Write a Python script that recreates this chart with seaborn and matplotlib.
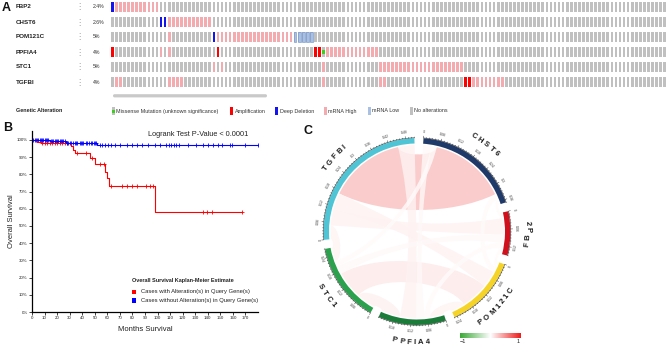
import numpy as np
import matplotlib
matplotlib.use("Agg")
import matplotlib.pyplot as plt
import seaborn as sns
from matplotlib.patches import Wedge, PathPatch, Rectangle, FancyBboxPatch
from matplotlib.path import Path
from matplotlib.colors import LinearSegmentedColormap, Normalize
from matplotlib.textpath import TextToPath
from matplotlib.font_manager import FontProperties

# ---------------- Panel A data (oncoprint) ----------------
genes = ["FBP2", "CHST6", "POM121C", "PPFIA4", "STC1", "TGFBI"]
gene_pct = ["2.4%", "2.6%", "5%", "4%", "5%", "4%"]
n_cases = 137
deep_deletion = [("FBP2", 0), ("CHST6", 12), ("CHST6", 13), ("POM121C", 25)]
amplification = [("PPFIA4", 0), ("PPFIA4", 26), ("PPFIA4", 50), ("PPFIA4", 51),
                 ("TGFBI", 87), ("TGFBI", 88)]
missense = [("PPFIA4", 52)]
mrna_low = [("POM121C", 45, 49)]
mrna_high = [("FBP2", 1, 11), ("CHST6", 14, 24), ("POM121C", 14, 14), ("POM121C", 26, 44),
             ("PPFIA4", 12, 12), ("PPFIA4", 14, 14), ("PPFIA4", 53, 65),
             ("STC1", 25, 25), ("STC1", 27, 27), ("STC1", 52, 52), ("STC1", 66, 86),
             ("TGFBI", 1, 2), ("TGFBI", 14, 17), ("TGFBI", 52, 52), ("TGFBI", 66, 67),
             ("TGFBI", 89, 96)]
legend_labels = ["Missense Mutation (unknown significance)", "Amplification", "Deep Deletion",
                 "mRNA High", "mRNA Low", "No alterations"]

# ---------------- Panel B data (Kaplan-Meier) ----------------
red_time = [0, 4, 7, 31, 32.5, 34, 46, 50, 58, 59.5, 61.5, 98, 167.5]
red_surv = [1.0, 0.99, 0.98, 0.963, 0.94, 0.922, 0.893, 0.86, 0.816, 0.777, 0.732, 0.583, 0.583]
red_censor = [8, 10, 12, 14, 16, 18, 20, 22, 24, 26, 28, 36, 43, 47.5, 54, 57,
              63, 72, 76, 80, 84, 91, 94, 96, 136, 139, 143, 167.5]
blue_time = [0, 14, 27, 52, 180]
blue_surv = [1.0, 0.993, 0.985, 0.968, 0.968]
blue_censor = [1, 2, 3, 4, 5, 6, 7, 8, 9, 10, 11, 12, 13, 15, 16, 17, 18, 19, 20, 21, 22,
               23, 24, 25, 26, 28, 29, 30, 31, 33, 34, 35, 36, 38, 39, 40, 41, 43, 44, 45,
               47, 48, 49, 50, 51, 54, 56, 58, 60.5, 63, 66, 70, 76, 79.5, 83.5, 88, 92,
               98, 102, 107, 109, 111, 113, 115, 117, 124, 131, 136, 140, 144, 148, 151,
               157.5, 159, 169.5, 180]
km_title = "Logrank Test P-Value < 0.0001"
km_legend = ["Cases with Alteration(s) in Query Gene(s)",
             "Cases without Alteration(s) in Query Gene(s)"]

# ---------------- Panel C data (chord diagram) ----------------
chord_genes = ["CHST6", "FBP2", "POM121C", "PPFIA4", "STC1", "TGFBI"]
chord_colors = ["#1f3a68", "#d0101c", "#f6d327", "#1b7c3a", "#2ba14d", "#4fc4d4"]
link_a = ["TGFBI", "TGFBI", "TGFBI", "TGFBI", "TGFBI", "CHST6", "CHST6", "CHST6", "CHST6",
          "FBP2", "FBP2", "FBP2", "POM121C", "POM121C", "PPFIA4"]
link_b = ["CHST6", "FBP2", "STC1", "POM121C", "PPFIA4", "FBP2", "POM121C", "PPFIA4", "STC1",
          "POM121C", "PPFIA4", "STC1", "PPFIA4", "STC1", "STC1"]
link_r = [0.28, 0.06, 0.05, 0.06, 0.06, 0.02, 0.02, 0.03, 0.02,
          0.02, 0.02, 0.03, 0.05, 0.10, 0.07]
sector_order = {
    "CHST6": ["PPFIA4", "STC1", "TGFBI", "POM121C", "FBP2"],
    "FBP2": ["CHST6", "TGFBI", "STC1", "PPFIA4", "POM121C"],
    "POM121C": ["FBP2", "CHST6", "TGFBI", "STC1", "PPFIA4"],
    "PPFIA4": ["POM121C", "FBP2", "CHST6", "TGFBI", "STC1"],
    "STC1": ["PPFIA4", "POM121C", "FBP2", "CHST6", "TGFBI"],
    "TGFBI": ["STC1", "FBP2", "POM121C", "CHST6", "PPFIA4"],
}

# ---------------- figure ----------------
sns.set_theme(style="white")
plt.rcParams['font.family'] = ['Liberation Sans', 'DejaVu Sans']
W, H = 669, 346
fig = plt.figure(figsize=(W / 100, H / 100), dpi=100)


def rect(x0, y0, x1, y1):
    return [x0 / W, 1 - y1 / H, (x1 - x0) / W, (y1 - y0) / H]


GRAY = "#c0c0c0"
PINK = "#f3abb0"
RED = "#ff0000"
BLUE = "#1414f0"
LBLUE = "#a9c0e2"
GREEN = "#3ccf1e"

# ---------- Panel A ----------
axA = fig.add_axes(rect(110.3, -0.5, 666.7, 89.5))
axA.set_xlim(-0.5, n_cases - 0.5)
axA.set_ylim(len(genes) - 0.5, -0.5)
axA.axis('off')
bw, bh = 0.67, 0.667
row = {g: i for i, g in enumerate(genes)}
cols = np.arange(n_cases)
for g in genes:
    axA.bar(cols, bh, bottom=row[g] - bh / 2, width=bw, color=GRAY, linewidth=0)
for g, c0, c1 in mrna_high:
    xs = np.arange(c0, c1 + 1)
    axA.bar(xs, bh, bottom=row[g] - bh / 2, width=bw, color=PINK, linewidth=0)
for g, c0, c1 in mrna_low:
    xs = np.arange(c0, c1 + 1)
    axA.bar(xs, bh, bottom=row[g] - bh / 2, width=bw, color=LBLUE,
            edgecolor="#6f8fc8", linewidth=0.4)
for g, c in amplification:
    axA.bar([c], bh, bottom=row[g] - bh / 2, width=bw, color=RED, linewidth=0)
for g, c in deep_deletion:
    axA.bar([c], bh, bottom=row[g] - bh / 2, width=bw, color=BLUE, linewidth=0)
for g, c in missense:
    axA.bar([c], 0.3, bottom=row[g] - 0.15, width=bw, color=GREEN, linewidth=0)

# ---------- Panel B ----------
axB = fig.add_axes(rect(32, 131, 258, 312))


def step_at(times, surv, t):
    idx = np.searchsorted(np.asarray(times), np.asarray(t), side='right') - 1
    return np.asarray(surv)[idx]


sns.lineplot(x=red_time, y=red_surv, drawstyle='steps-post', color=RED, lw=0.8,
             estimator=None, sort=False, ax=axB)
sns.lineplot(x=blue_time, y=blue_surv, drawstyle='steps-post', color="#0000ff", lw=0.8,
             estimator=None, sort=False, ax=axB)
sns.scatterplot(x=red_censor, y=step_at(red_time, red_surv, red_censor), marker='+',
                color=RED, s=7, linewidth=0.6, ax=axB)
sns.scatterplot(x=blue_censor, y=step_at(blue_time, blue_surv, blue_censor), marker='+',
                color="#0000ff", s=7, linewidth=0.6, ax=axB)
axB.set_xlim(0, 180)
axB.set_ylim(0, 1.052)
axB.set_xticks(np.arange(0, 171, 10))
axB.set_yticks(np.arange(0, 1.01, 0.1))
axB.set_yticklabels([f"{int(round(v * 100))}%" for v in np.arange(0, 1.01, 0.1)])
axB.tick_params(axis='both', labelsize=3.2, length=2, width=0.6, pad=1, colors="#222222",
                left=True, bottom=True)
for s in ["top", "right"]:
    axB.spines[s].set_visible(False)
for s in ["left", "bottom"]:
    axB.spines[s].set_color("black")
    axB.spines[s].set_linewidth(0.9)
axB.set_xlabel("Months Survival", fontsize=5.5, labelpad=4, color="#222222")
axB.set_ylabel("Overall Survival", fontsize=5.5, color="#222222")
axB.yaxis.set_label_coords(-0.075, 0.5)

# ---------- Panel C ----------
cx, cy = 417, 231.5
axC = fig.add_axes(rect(cx - 130, cy - 130, cx + 130, cy + 130))
axC.set_xlim(-130, 130)
axC.set_ylim(-130, 130)
axC.set_aspect('equal')
axC.axis('off')

cmap = LinearSegmentedColormap.from_list("gwr", ["#3aa935", "#ffffff", "#ee1c1c"])
norm = Normalize(-1, 1)

totals = {g: 0.0 for g in chord_genes}
for a, b, r in zip(link_a, link_b, link_r):
    totals[a] += abs(r)
    totals[b] += abs(r)
gap = 5.6
start_angle = 86.0
dpu = (360 - gap * len(chord_genes)) / sum(totals.values())
R_OUT, RING, R_LINK = 93.5, 5.5, 86.5

sector_span = {}
cur = start_angle
for g in chord_genes:
    sector_span[g] = (cur, cur - totals[g] * dpu)
    cur = cur - totals[g] * dpu - gap

linkval = {}
for a, b, r in zip(link_a, link_b, link_r):
    linkval[(a, b)] = r
    linkval[(b, a)] = r
pos = {}
for g in chord_genes:
    a = sector_span[g][0]
    for p in sector_order[g]:
        w = abs(linkval[(g, p)]) * dpu
        pos[(g, p)] = (a, a - w)
        a -= w


def arc_pts(a_from, a_to, r, n=40):
    t = np.radians(np.linspace(a_from, a_to, n))
    return np.c_[r * np.cos(t), r * np.sin(t)]


def ctrl_factor(t1, t2):
    d = abs((t1 - t2 + 180) % 360 - 180)
    return 1 - 0.8 * d / 180


order = np.argsort([-abs(v) for v in link_r])
for k in order:
    a, b, r = link_a[k], link_b[k], link_r[k]
    ah, al = pos[(a, b)]
    bh_, bl = pos[(b, a)]
    A = arc_pts(ah, al, R_LINK)
    B = arc_pts(bh_, bl, R_LINK)
    k1 = ctrl_factor(al, bh_)
    k2 = ctrl_factor(bl, ah)
    verts = (list(A) + [A[-1] * k1, B[0] * k1, B[0]] + list(B[1:])
             + [B[-1] * k2, A[0] * k2, A[0], A[0]])
    codes = ([Path.MOVETO] + [Path.LINETO] * (len(A) - 1) + [Path.CURVE4] * 3
             + [Path.LINETO] * (len(B) - 1) + [Path.CURVE4] * 3 + [Path.CLOSEPOLY])
    axC.add_patch(PathPatch(Path(verts, codes), facecolor=cmap(norm(r)), alpha=0.8,
                            edgecolor='none', zorder=1))

fp_tick = FontProperties(family='Liberation Sans', size=2.6)
fp_name = FontProperties(family='Liberation Sans', weight='bold', size=5.6)
t2p = TextToPath()


def rot_for(theta):
    th = theta % 360
    return theta - 90 if 0 < th < 180 else theta + 90


for g, col in zip(chord_genes, chord_colors):
    a0, a1 = sector_span[g]
    axC.add_patch(Wedge((0, 0), R_OUT, a1, a0, width=RING, facecolor=col,
                        edgecolor='none', zorder=3))
    arc = arc_pts(a0, a1, R_OUT + 0.3, 60)
    axC.plot(arc[:, 0], arc[:, 1], color="#333333", lw=0.35, zorder=4)
    n_ticks = int(np.floor(totals[g] * 100 + 1e-6))
    for j in range(n_ticks + 1):
        v = j / 100
        th = np.radians(a0 - v * dpu)
        major = j % 6 == 0
        L = 2.2 if major else 1.1
        axC.plot([R_OUT * np.cos(th), (R_OUT + L) * np.cos(th)],
                 [R_OUT * np.sin(th), (R_OUT + L) * np.sin(th)],
                 color="#333333", lw=0.35, zorder=4)
        if major:
            thd = a0 - v * dpu
            rr = R_OUT + 6
            axC.text(rr * np.cos(th), rr * np.sin(th), f"{v:g}", fontproperties=fp_tick,
                     rotation=rot_for(thd), ha='center', va='center', color="#444444",
                     rotation_mode='anchor')
    # curved gene name
    mid = (a0 + a1) / 2
    rr = 111
    widths = [t2p.get_text_width_height_descent(ch, fp_name, ismath=False)[0] * 100 / 72
              for ch in g]
    spacing = 2.2
    total_len = sum(widths) + spacing * (len(g) - 1)
    top = 0 < (mid % 360) < 180
    direction = -1 if top else 1
    s = -total_len / 2
    for ch, wch in zip(g, widths):
        centre = s + wch / 2
        thd = mid + direction * np.degrees(centre / rr)
        th = np.radians(thd)
        axC.text(rr * np.cos(th), rr * np.sin(th), ch, fontproperties=fp_name,
                 rotation=rot_for(thd), ha='center', va='center', color="#1a1a1a",
                 rotation_mode='anchor')
        s += wch + spacing

# colour bar legend
axCB = fig.add_axes(rect(460, 333, 520, 338))
axCB.imshow(np.linspace(-1, 1, 200)[None, :], aspect='auto', cmap=cmap, norm=norm)
axCB.axis('off')

# ---------- overlay text / decorations ----------
ov = fig.add_axes([0, 0, 1, 1])
ov.set_xlim(0, W)
ov.set_ylim(H, 0)
ov.axis('off')

for lab, x, y in [("A", 2, 8), ("B", 3, 128), ("C", 303, 131)]:
    ov.text(x, y, lab, fontsize=9, fontweight='bold', va='center', ha='left', color="#111111")

for i, g in enumerate(genes):
    y = 7 + 15 * i
    ov.text(15.5, y, g, fontsize=4.5, fontweight='bold', va='center', ha='left', color="#222222")
    ov.text(79, y, "⋮", fontsize=6, va='center', ha='center', color="#9a9a9a",
            family=['DejaVu Sans'])
    ov.text(92.5, y, gene_pct[i], fontsize=3.7, va='center', ha='left', color="#333333")

ov.add_patch(FancyBboxPatch((113, 94.2), 154, 3.2, boxstyle="round,pad=0,rounding_size=1.6",
                            facecolor="#c9c9c9", edgecolor='none'))
ov.text(16, 111, "Genetic Alteration", fontsize=3.9, fontweight='bold', va='center',
        ha='left', color="#222222")
leg_x = [112, 230, 275, 324, 368, 410]
leg_c = [GRAY, RED, BLUE, PINK, LBLUE, GRAY]
for x, c, lab in zip(leg_x, leg_c, legend_labels):
    ov.add_patch(Rectangle((x, 107), 2.6, 8, facecolor=c, edgecolor='none'))
    ov.text(x + 4.5, 111, lab, fontsize=3.9, va='center', ha='left', color="#333333")
ov.add_patch(Rectangle((112, 110), 2.6, 2.6, facecolor=GREEN, edgecolor='none'))

ov.text(198, 134, km_title, fontsize=5.3, va='center', ha='center', color="#222222")
ov.text(131.5, 280.5, "Overall Survival Kaplan-Meier Estimate", fontsize=4.0,
        fontweight='bold', va='center', ha='left', color="#222222")
for y, c, lab in [(292, RED, km_legend[0]), (300.5, "#0000ff", km_legend[1])]:
    ov.add_patch(Rectangle((132.3, y - 2.2), 3.8, 4.4, facecolor=c, edgecolor='none'))
    ov.text(140.7, y, lab, fontsize=4.2, va='center', ha='left', color="#222222")

ov.text(463, 341.5, "−1", fontsize=4, va='center', ha='center', color="#222222")
ov.text(518, 341.5, "1", fontsize=4, va='center', ha='center', color="#222222")

fig.savefig("out.png", dpi=100)
